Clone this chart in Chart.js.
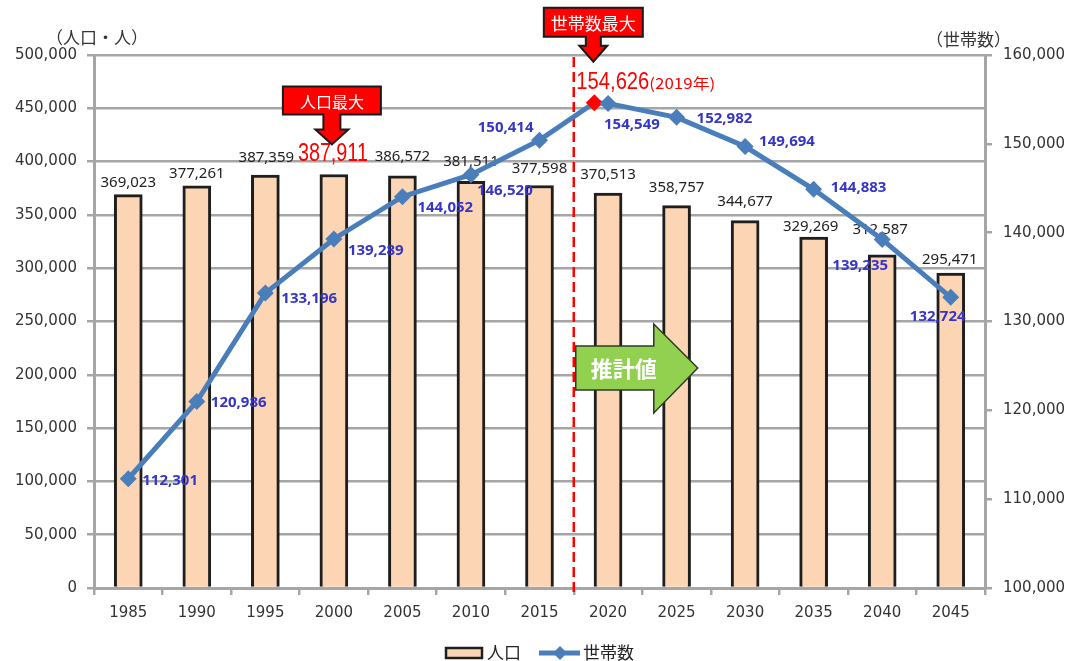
<!DOCTYPE html>
<html>
<head>
<meta charset="utf-8">
<script src="https://cdn.jsdelivr.net/npm/chart.js@4.4.1/dist/chart.umd.min.js"></script>
<style>
  html, body { margin: 0; padding: 0; background: #fff; }
</style>
</head>
<body>
<canvas id="chart" width="1071" height="661"></canvas>
<script>
// data
const years = [1985, 1990, 1995, 2000, 2005, 2010, 2015, 2020, 2025, 2030, 2035, 2040, 2045];
const population = [369023, 377261, 387359, 387911, 386572, 381511, 377598, 370513, 358757, 344677, 329269, 312587, 295471];
const households = [112301, 120986, 133196, 139289, 144052, 146520, 150414, 154549, 152982, 149694, 144883, 139235, 132724];
const peakYear = 2019;
const peakHouseholds = 154626;
const popMaxIndex = 3; // 2000

// label layout tweaks (pixels), same order as years
const barLabelGap = [12, 12, 17, 21, 19, 20, 17, 18, 18, 19, 10, 25, 13];
const barLabelDx = [0, 0, 1, -1, 0, 0, 0, 0, 0, 0, -3, -2, -1];
// [dx, dy, align] for the household labels
const lineLabelPos = [
  [14, 2, "left"], [14, 1, "left"], [16, 6, "left"], [14, 12, "left"],
  [15, 11, "left"], [6, 16, "left"], [-6, -12, "right"], [-4, 21, "left"],
  [20, 1, "left"], [14, -5, "left"], [17, -2, "left"], [-22, 26, "center"],
  [-13, 19, "center"],
];

const GRAY = "#a6a6a6";
const BLUE = "#4a7ebb";
const LABEL_BLUE = "#3535c8";
const PEACH = "#fcd5b5";
const JP = '"Noto Sans CJK JP", "Noto Sans", sans-serif';

// line points on a linear year axis so 2019 sits between 2015 and 2020
const householdPoints = years.map((y, i) => ({ x: y, y: households[i] }));
householdPoints.splice(7, 0, { x: peakYear, y: peakHouseholds });
const pointColors = householdPoints.map((p) => (p.x === peakYear ? "#ff0000" : BLUE));

const fmt = (v) => Number(v).toLocaleString("en-US");

function fitText(ctx, text, x, y, font, width, align) {
  ctx.save();
  ctx.font = font;
  const w = ctx.measureText(text).width;
  const s = width / w;
  let left = x;
  if (align === "center") left = x - width / 2;
  if (align === "right") left = x - width;
  ctx.translate(left, y);
  ctx.scale(s, 1);
  ctx.textAlign = "left";
  ctx.fillText(text, 0, 0);
  ctx.restore();
}

function calloutDown(ctx, cx, tipY, boxW, boxH, shaftLen, headLen, shaftHalf, headHalf, text, fontSize) {
  const boxBottom = tipY - headLen - shaftLen;
  const boxTop = boxBottom - boxH;
  const l = cx - boxW / 2, r = cx + boxW / 2;
  ctx.save();
  ctx.beginPath();
  ctx.moveTo(l, boxTop);
  ctx.lineTo(r, boxTop);
  ctx.lineTo(r, boxBottom);
  ctx.lineTo(cx + shaftHalf, boxBottom);
  ctx.lineTo(cx + shaftHalf, boxBottom + shaftLen);
  ctx.lineTo(cx + headHalf, boxBottom + shaftLen);
  ctx.lineTo(cx, tipY);
  ctx.lineTo(cx - headHalf, boxBottom + shaftLen);
  ctx.lineTo(cx - shaftHalf, boxBottom + shaftLen);
  ctx.lineTo(cx - shaftHalf, boxBottom);
  ctx.lineTo(l, boxBottom);
  ctx.closePath();
  ctx.fillStyle = "#ff0000";
  ctx.fill();
  ctx.lineWidth = 2;
  ctx.strokeStyle = "#1a1a1a";
  ctx.stroke();
  ctx.fillStyle = "#ffffff";
  ctx.font = fontSize + "px " + JP;
  ctx.textAlign = "center";
  ctx.textBaseline = "middle";
  ctx.fillText(text, cx, boxTop + boxH / 2 + 1);
  ctx.restore();
}

const extras = {
  id: "extras",
  beforeDatasetsDraw(chart) {
    const { ctx, chartArea, scales } = chart;
    const x = scales.x2.getPixelForValue(2017.5);
    ctx.save();
    ctx.strokeStyle = "#ff0000";
    ctx.lineWidth = 2.5;
    ctx.setLineDash([10, 5]);
    ctx.beginPath();
    ctx.moveTo(x, chartArea.top + 2);
    ctx.lineTo(x, chartArea.bottom + 6);
    ctx.stroke();
    ctx.restore();
  },
  afterDatasetDraw(chart, args) {
    if (args.meta.type !== "bar") return;
    const ctx = chart.ctx;
    ctx.save();
    ctx.textAlign = "center";
    ctx.textBaseline = "middle";
    args.meta.data.forEach((bar, i) => {
      if (i === popMaxIndex) {
        ctx.fillStyle = "#ff0000";
        fitText(ctx, fmt(population[i]), bar.x + barLabelDx[i], bar.y - barLabelGap[i],
          '26px "Liberation Sans Narrow", "Liberation Sans", sans-serif', 70, "center");
      } else {
        ctx.fillStyle = "#222222";
        ctx.font = '15px "Noto Sans", sans-serif';
        ctx.fillText(fmt(population[i]), bar.x + barLabelDx[i], bar.y - barLabelGap[i]);
      }
    });
    ctx.restore();
  },
  afterDatasetsDraw(chart) {
    const { ctx, chartArea, scales } = chart;
    const lineMeta = chart.getDatasetMeta(0);
    const barMeta = chart.getDatasetMeta(1);

    // household labels
    ctx.save();
    ctx.fillStyle = LABEL_BLUE;
    ctx.font = 'bold 15px "Noto Sans", sans-serif';
    ctx.textBaseline = "middle";
    let k = 0;
    lineMeta.data.forEach((pt, i) => {
      if (householdPoints[i].x === peakYear) return;
      const [dx, dy, align] = lineLabelPos[k];
      ctx.textAlign = align;
      ctx.fillText(fmt(households[k]), pt.x + dx, pt.y + dy);
      k++;
    });
    ctx.restore();

    // peak household label
    const peak = lineMeta.data[householdPoints.findIndex((p) => p.x === peakYear)];
    ctx.save();
    ctx.fillStyle = "#ff0000";
    ctx.textBaseline = "middle";
    fitText(ctx, fmt(peakHouseholds), peak.x - 18, peak.y - 20,
      '23px "Liberation Sans Narrow", "Liberation Sans", sans-serif', 73, "left");
    fitText(ctx, "(" + peakYear + "年)", peak.x + 55, peak.y - 19,
      '15px ' + JP, 66, "left");
    ctx.restore();

    // callouts
    const popBar = barMeta.data[popMaxIndex];
    calloutDown(ctx, popBar.x - 2, popBar.y - 30, 98, 28, 15, 15, 8.5, 16.5, "人口最大", 16);
    calloutDown(ctx, peak.x - 1, peak.y - 41, 99, 29, 9, 16, 7.5, 14, "世帯数最大", 17);

    // projection arrow
    const ax = scales.x2.getPixelForValue(2017.5) + 2;
    const ay = chartArea.top + 313;
    ctx.save();
    ctx.beginPath();
    ctx.moveTo(ax, ay - 22);
    ctx.lineTo(ax + 78, ay - 22);
    ctx.lineTo(ax + 78, ay - 44);
    ctx.lineTo(ax + 122, ay);
    ctx.lineTo(ax + 78, ay + 45);
    ctx.lineTo(ax + 78, ay + 22);
    ctx.lineTo(ax, ay + 22);
    ctx.closePath();
    ctx.fillStyle = "#92d050";
    ctx.fill();
    ctx.lineWidth = 1.5;
    ctx.strokeStyle = "#2e3b25";
    ctx.stroke();
    ctx.fillStyle = "#ffffff";
    ctx.font = "bold 22px " + JP;
    ctx.textAlign = "left";
    ctx.textBaseline = "middle";
    ctx.fillText("推計値", ax + 15, ay + 1);
    ctx.restore();
  },
  afterDraw(chart) {
    const { ctx } = chart;
    ctx.save();
    // axis titles
    ctx.fillStyle = "#333333";
    ctx.font = "17px " + JP;
    ctx.textBaseline = "middle";
    ctx.textAlign = "left";
    ctx.fillText("（人口・人）", 46, 38);
    ctx.fillText("（世帯数）", 926, 40);

    // legend
    const ly = 653;
    ctx.fillStyle = PEACH;
    ctx.fillRect(446, ly - 5, 36, 10);
    ctx.lineWidth = 2.5;
    ctx.strokeStyle = "#1e1e1e";
    ctx.strokeRect(446, ly - 5, 36, 10);
    ctx.fillStyle = "#222222";
    ctx.font = "17px " + JP;
    ctx.fillText("人口", 487, ly);

    ctx.strokeStyle = BLUE;
    ctx.lineWidth = 5;
    ctx.beginPath();
    ctx.moveTo(539, ly);
    ctx.lineTo(580, ly);
    ctx.stroke();
    ctx.fillStyle = BLUE;
    ctx.beginPath();
    ctx.moveTo(560, ly - 7);
    ctx.lineTo(567, ly);
    ctx.lineTo(560, ly + 7);
    ctx.lineTo(553, ly);
    ctx.closePath();
    ctx.fill();
    ctx.fillStyle = "#222222";
    ctx.fillText("世帯数", 583, ly);
    ctx.restore();
  },
};

new Chart(document.getElementById("chart"), {
  data: {
    labels: years.map(String),
    datasets: [
      {
        type: "line",
        label: "世帯数",
        data: householdPoints,
        xAxisID: "x2",
        yAxisID: "yRight",
        borderColor: BLUE,
        borderWidth: 5,
        pointStyle: "rectRot",
        pointRadius: 8.5,
        pointBackgroundColor: pointColors,
        pointBorderColor: pointColors,
        pointBorderWidth: 0,
        tension: 0,
        order: 1,
      },
      {
        type: "bar",
        label: "人口",
        data: population,
        xAxisID: "x",
        yAxisID: "yLeft",
        backgroundColor: PEACH,
        borderColor: "#1e1e1e",
        borderWidth: 3,
        barThickness: 28,
        grouped: false,
        order: 2,
      },
    ],
  },
  options: {
    responsive: false,
    animation: false,
    layout: { padding: { top: 55, left: 0, right: 0, bottom: 0 } },
    plugins: {
      legend: { display: false },
      tooltip: { enabled: false },
    },
    scales: {
      x: {
        type: "category",
        position: "bottom",
        offset: true,
        grid: { offset: true, drawOnChartArea: false, drawTicks: true, tickLength: 7, color: GRAY, lineWidth: 2.5 },
        border: { color: GRAY, width: 3 },
        ticks: { color: "#333333", padding: 9, font: { family: "DejaVu Sans", size: 15 } },
        afterFit: (s) => { s.height = 73; },
      },
      x2: {
        type: "linear",
        display: false,
        min: 1982.5,
        max: 2047.5,
      },
      yLeft: {
        position: "left",
        min: 0,
        max: 500000,
        ticks: { stepSize: 50000, color: "#333333", padding: 10, font: { family: "DejaVu Sans", size: 15 }, callback: (v) => fmt(v) },
        grid: { color: GRAY, lineWidth: 2.5, tickLength: 7 },
        border: { color: GRAY, width: 3 },
        afterFit: (s) => { s.width = 94; },
      },
      yRight: {
        position: "right",
        min: 100000,
        max: 160000,
        ticks: { stepSize: 10000, color: "#333333", padding: 11, font: { family: "DejaVu Sans", size: 15 }, callback: (v) => fmt(v) },
        grid: { drawOnChartArea: false, color: GRAY, lineWidth: 2.5, tickLength: 7 },
        border: { color: GRAY, width: 3 },
        afterFit: (s) => { s.width = 86; },
      },
    },
  },
  plugins: [extras],
});
</script>
</body>
</html>
